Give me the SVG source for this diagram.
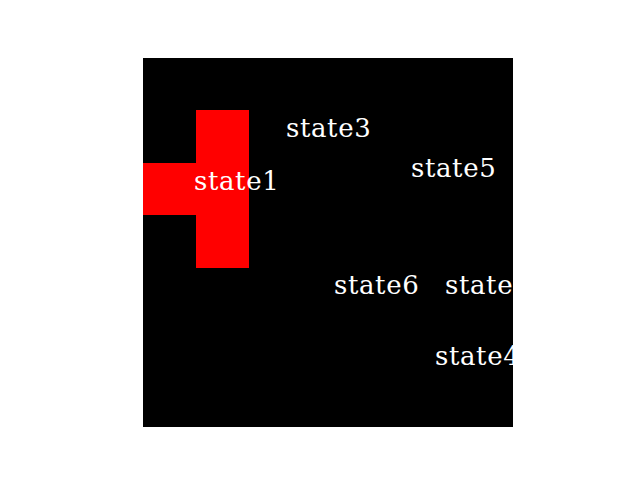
<svg xmlns="http://www.w3.org/2000/svg" width="640" height="480" viewBox="0 0 640 480">
<style>
.lbl{font-family:"DejaVu Serif","Liberation Serif",serif;font-size:26px;letter-spacing:0.6px;fill:#ffffff}
</style>
<defs>
<clipPath id="ax"><rect x="143" y="58" width="370" height="369"/></clipPath>
</defs>
<rect width="640" height="480" fill="#ffffff"/>
<g id="grid">
<rect x="143" y="58" width="370" height="369" fill="#000000"/>
<rect x="196" y="110" width="53" height="158" fill="#ff0000"/>
<rect x="143" y="163" width="53" height="52" fill="#ff0000"/>
</g>
<g id="labels" clip-path="url(#ax)">
<g id="state1"><text class="lbl" x="194" y="190">state1</text></g>
<g id="state3"><text class="lbl" x="286" y="137">state3</text></g>
<g id="state5"><text class="lbl" x="411" y="177">state5</text></g>
<g id="state6"><text class="lbl" x="334" y="294">state6</text></g>
<g id="state2"><text class="lbl" x="445" y="294">state2</text></g>
<g id="state4"><text class="lbl" x="435" y="365">state4</text></g>
</g>
</svg>
